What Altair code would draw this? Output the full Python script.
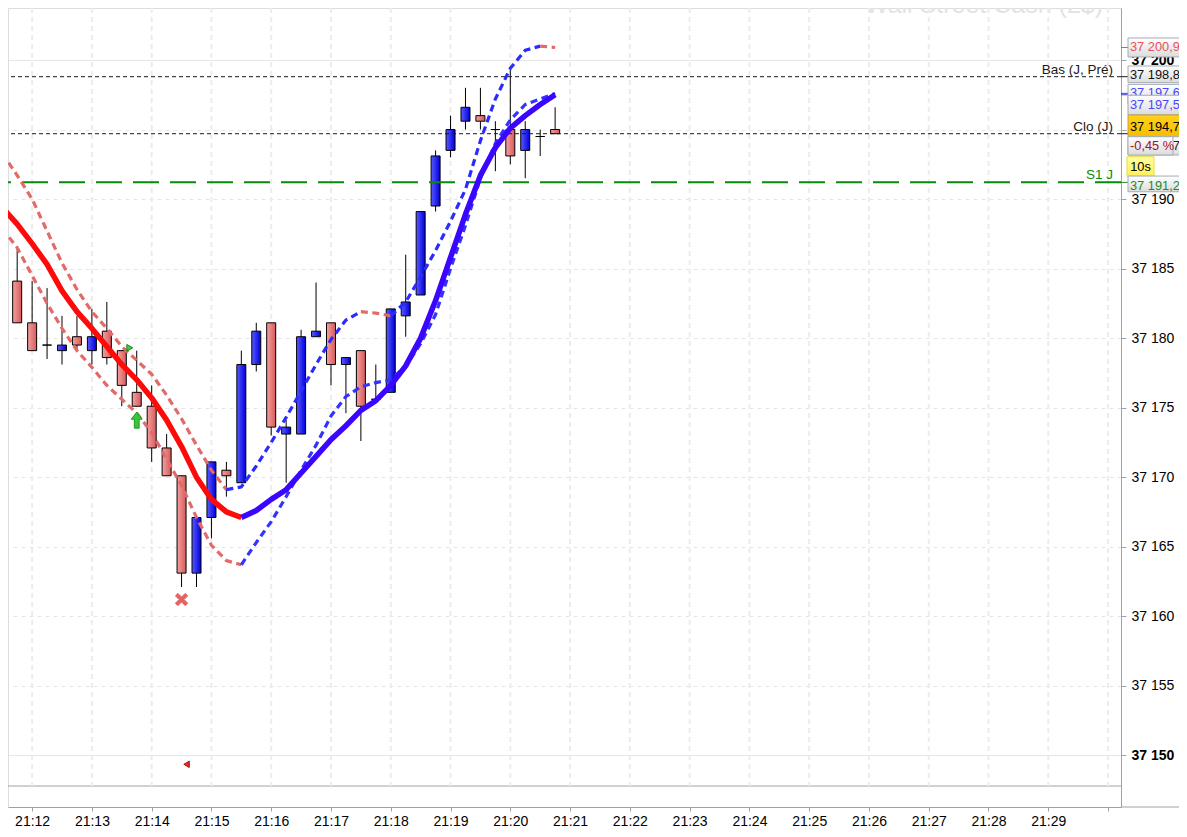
import pandas as pd
import altair as alt

# 15-second candles, time in seconds after 21:12:00
t_sec = list(range(-30, 540, 15))

opens = [37188.7, 37184.1, 37181.1, 37179.5, 37179.1, 37180.1, 37179.1, 37180.5, 37179.1, 37176.1,
         37175.1, 37172.1, 37170.1, 37163.1, 37167.1, 37170.5, 37169.6, 37178.1, 37181.1, 37173.1,
         37173.1, 37180.1, 37181.1, 37178.1, 37179.1, 37175.6, 37176.1, 37181.6, 37183.1, 37189.5,
         37193.5, 37195.6, 37196.0, 37195.0, 37195.0, 37193.5, 37194.5, 37195.0]
highs = [37190.3, 37186.6, 37184.1, 37183.6, 37181.6, 37181.6, 37182.1, 37182.6, 37179.1, 37179.1,
         37176.6, 37173.1, 37170.1, 37167.1, 37171.1, 37171.1, 37179.1, 37181.1, 37181.1, 37174.1,
         37180.6, 37184.0, 37181.1, 37178.6, 37179.1, 37178.1, 37182.1, 37186.0, 37189.1, 37193.5,
         37196.0, 37198.0, 37198.0, 37195.6, 37199.5, 37195.6, 37195.0, 37196.6]
lows = [37184.5, 37181.1, 37179.1, 37178.5, 37178.1, 37179.1, 37178.1, 37178.1, 37175.1, 37175.1,
        37171.1, 37170.1, 37162.1, 37162.1, 37165.6, 37168.6, 37169.6, 37177.6, 37173.0, 37169.6,
        37173.1, 37180.1, 37176.6, 37174.6, 37172.6, 37175.6, 37176.1, 37180.1, 37183.1, 37189.1,
        37193.0, 37195.0, 37195.0, 37192.0, 37192.5, 37191.5, 37193.1, 37194.7]
closes = [37184.5, 37181.1, 37179.1, 37179.5, 37179.5, 37179.5, 37180.1, 37178.6, 37176.6, 37175.1,
          37172.1, 37170.1, 37163.1, 37167.1, 37171.1, 37170.1, 37178.1, 37180.5, 37173.6, 37173.6,
          37180.1, 37180.5, 37178.1, 37178.6, 37175.1, 37175.6, 37182.1, 37182.6, 37189.1, 37193.1,
          37195.0, 37196.6, 37195.6, 37195.0, 37193.1, 37195.0, 37194.5, 37194.7]

# moving average (thick) and the two dashed averages
ma = [37189.4, 37188.2, 37186.8, 37185.3, 37183.4, 37181.9, 37180.7, 37179.4, 37178.1, 37177.0,
      37175.7, 37174.1, 37172.2, 37170.0, 37168.4, 37167.5, 37167.1, 37167.6, 37168.4, 37169.1,
      37170.3, 37171.5, 37172.7, 37173.7, 37174.8, 37175.5, 37176.6, 37178.0, 37180.0, 37182.7,
      37185.8, 37188.9, 37191.7, 37193.7, 37195.1, 37196.0, 37196.8, 37197.5]
upper = [37193.3, 37191.7, 37190.0, 37187.7, 37185.4, 37183.5, 37181.9, 37180.7, 37179.4, 37178.4,
         37177.4, 37175.9, 37174.2, 37172.3, 37170.5, 37169.1, 37169.3, 37170.8, 37172.5, 37174.3,
         37176.2, 37178.1, 37179.9, 37181.3, 37181.9, 37181.8, 37181.6, 37182.6, 37184.4, 37186.3,
         37188.4, 37190.7, 37194.2, 37197.2, 37199.4, 37200.7, 37201.0, 37200.9]
lower = [37187.9, 37186.5, 37184.5, 37182.5, 37180.7, 37179.1, 37177.9, 37176.6, 37175.6, 37174.6,
         37173.2, 37171.3, 37169.4, 37167.1, 37165.1, 37164.0, 37163.7, 37165.3, 37166.8, 37168.6,
         37170.5, 37172.3, 37174.4, 37175.8, 37176.5, 37176.8, 37177.0, 37178.0, 37179.6, 37181.7,
         37185.0, 37188.1, 37191.5, 37194.0, 37195.7, 37196.8, 37197.2, 37197.6]

minute_ticks = list(range(0, 1081, 60))
price_ticks = list(range(37150, 37201, 5))

level_names = ["Bas (J, Pré)", "Clo (J)", "S1 J"]
level_values = [37198.8, 37194.7, 37191.2]
level_colors = ["#1a1a1a", "#1a1a1a", "#0a8a0a"]

pct_change = -0.45
countdown = "10s"

# signals: time (s), price
sig_tri_up = (98, 37179.3)
sig_arrow = (105, 37174.1)
sig_cross = (150, 37161.2)
sig_tri_dn = (155, 37149.35)

# ---- layout ----
W, H = 1113, 799
SEP = 778
XS = alt.Scale(domain=[-19.2, 1088.0], nice=False, zero=False)
YS = alt.Scale(domain=[37146.28, 37203.74], nice=False, zero=False)
AX = "#9aa3ab"

X_AXIS = alt.Axis(values=minute_ticks, grid=False, title=None,
                  labelExpr="datum.value >= 1080 ? '' : '21:' + (12 + datum.value / 60)",
                  domainColor=AX, tickColor=AX, tickSize=4, labelFontSize=14,
                  labelColor="#000", labelPadding=3, labelFlush=False, labelOverlap=False)
Y_AXIS = alt.Axis(orient="right", values=price_ticks, title=None,
                  labelExpr="replace(format(datum.value, ','), ',', ' ')",
                  labelFontWeight={"condition": {"test": "datum.value % 50 === 0", "value": "bold"},
                                   "value": "normal"},
                  gridDash={"condition": {"test": "datum.value % 50 === 0", "value": []},
                            "value": [4, 4]},
                  grid=True, gridColor="#e6e6e6", gridWidth=1.2,
                  domainColor=AX, tickColor=AX, tickSize=5, labelFontSize=14,
                  labelColor="#000", labelPadding=5, labelFlush=False, labelOverlap=False)


def X(f):
    return alt.X(f, scale=XS, axis=X_AXIS, title=None)


def Y(f):
    return alt.Y(f, scale=YS, axis=Y_AXIS, title=None)


def hgrad(a, b):
    return {"gradient": "linear", "x1": 0, "x2": 1, "y1": 0, "y2": 0,
            "stops": [{"offset": 0, "color": a}, {"offset": 1, "color": b}]}


def vgrad(a, b):
    return {"gradient": "linear", "x1": 0, "x2": 0, "y1": 0, "y2": 1,
            "stops": [{"offset": 0, "color": a}, {"offset": 1, "color": b}]}


candles = pd.DataFrame({"t": t_sec, "o": opens, "h": highs, "l": lows, "c": closes})
up = candles[candles.c >= candles.o]
down = candles[candles.c < candles.o]


def runs(values, up_col, down_col):
    rows = []
    run = 0
    prev = None
    for i in range(len(values) - 1):
        d = values[i + 1] > values[i]
        col = up_col if d else down_col
        if d != prev:
            run += 1
            rows.append({"t": t_sec[i], "v": values[i], "run": run, "col": col})
            prev = d
        rows.append({"t": t_sec[i + 1], "v": values[i + 1], "run": run, "col": col})
    return pd.DataFrame(rows)


one = pd.DataFrame({"a": [0]})
layers = []

# pane separator and the time-axis line running under the price scale
layers.append(alt.Chart(one).mark_rule(color=AX).encode(
    x=alt.value(0), x2=alt.value(W), y=alt.value(SEP)))
layers.append(alt.Chart(one).mark_rule(color=AX).encode(
    x=alt.value(W), x2=alt.value(1200), y=alt.value(H)))

# watermark (cut by the top edge, as on screen)
layers.append(alt.Chart(one).mark_text(text="Wall Street Cash (2$)", fontSize=25, color="#e3e3e3",
                                       align="center", baseline="alphabetic").encode(
    x=alt.value(976), y=alt.value(5)))

# minute grid
layers.append(alt.Chart(pd.DataFrame({"m": minute_ticks})).mark_rule(
    color="#ececec", strokeWidth=2, strokeDash=[5, 4]).encode(
    x=X("m:Q"), y=alt.value(0), y2=alt.value(SEP)))

# candles
layers.append(alt.Chart(candles).mark_rule(color="#000", strokeWidth=1, clip=True).encode(
    x=X("t:Q"), y=Y("l:Q"), y2="h:Q"))
layers.append(alt.Chart(down).mark_bar(size=9, stroke="#000", strokeWidth=1, clip=True,
                                       fill=hgrad("#f4a0a0", "#d85a5a")).encode(
    x=X("t:Q"), y=Y("o:Q"), y2="c:Q"))
layers.append(alt.Chart(up).mark_bar(size=9, stroke="#000", strokeWidth=1, clip=True,
                                     fill=hgrad("#5a5aff", "#0000dc")).encode(
    x=X("t:Q"), y=Y("o:Q"), y2="c:Q"))

# level lines
levels = pd.DataFrame({"name": level_names, "v": level_values, "col": level_colors})
layers.append(alt.Chart(levels.iloc[:2]).mark_rule(color="#1a1a1a", strokeWidth=1,
                                                    strokeDash=[4, 3]).encode(y=Y("v:Q")))
layers.append(alt.Chart(levels.iloc[2:]).mark_rule(color="#0a8a0a", strokeWidth=2,
                                                    strokeDash=[26, 11]).encode(y=Y("v:Q")))
layers.append(alt.Chart(levels).mark_text(align="right", baseline="alphabetic", dy=-3,
                                          fontSize=13.5).encode(
    x=alt.value(W - 8), y=Y("v:Q"), text="name:N", color=alt.Color("col:N", scale=None)))

# averages
for vals, width, dash, upc, dnc in [(upper, 3.2, [7, 4.5], "#2b2bff", "#e26a6a"),
                                    (lower, 3.2, [7, 4.5], "#3333ff", "#e26a6a"),
                                    (ma, 5.5, None, "#3a06ff", "#ff0a0a")]:
    kw = {"strokeWidth": width, "clip": True, "strokeJoin": "round"}
    if dash:
        kw["strokeDash"] = dash
    layers.append(alt.Chart(runs(vals, upc, dnc)).mark_line(**kw).encode(
        x=X("t:Q"), y=Y("v:Q"), detail="run:N", order="t:Q",
        color=alt.Color("col:N", scale=None)))

# signals
ARROW = "M0,-1L0.68,-0.12L0.3,-0.12L0.3,1L-0.3,1L-0.3,-0.12L-0.68,-0.12Z"
XMARK = "M-1,-0.6L-0.6,-1L0,-0.4L0.6,-1L1,-0.6L0.4,0L1,0.6L0.6,1L0,0.4L-0.6,1L-1,0.6L-0.4,0Z"
for (st, sp), shape, size, fill, stroke in [
        (sig_tri_up, "triangle-right", 45, "#44cc44", "#118811"),
        (sig_arrow, ARROW, 256, "#3cc43c", "#1e9a1e"),
        (sig_cross, XMARK, 150, "#e06464", "#e06464"),
        (sig_tri_dn, "triangle-left", 40, "#e03030", "#a81010")]:
    layers.append(alt.Chart(pd.DataFrame({"t": [st], "v": [sp]})).mark_point(
        shape=shape, size=size, filled=True, fill=fill, stroke=stroke, strokeWidth=1,
        opacity=1).encode(x=X("t:Q"), y=Y("v:Q")))

# value ticks on the price axis
tick_vals = [upper[-1], level_values[0], lower[-1], ma[-1], closes[-1], level_values[2]]
tick_cols = ["#e8505a", "#1a1a1a", "#3a3aff", "#3a3aff", "#1a1a1a", "#1f8a1f"]
layers.append(alt.Chart(pd.DataFrame({"v": tick_vals, "col": tick_cols})).mark_rule(
    strokeWidth=1).encode(x=alt.value(W), x2=alt.value(W + 7), y=Y("v:Q"),
                          color=alt.Color("col:N", scale=None)))


def fmt(v):
    return f"{v:,.1f}".replace(",", " ").replace(".", ",")


GRAY = vgrad("#ffffff", "#dcdcdc")
last = closes[-1]
# value, text, text colour, fill, border, box top/bottom and text shift (px), x0, x1
tags = [
    (lower[-1], fmt(lower[-1]), "#4646ff", GRAY, "#a4acb4", -9, 11, 0, W + 7, 1200),
    (ma[-1], fmt(ma[-1]), "#4646ff", GRAY, "#a4acb4", 0.5, 20, 10, W + 7, 1200),
    (level_values[0], fmt(level_values[0]), "#111", GRAY, "#a4acb4", -10.7, 6, -1.7, W + 7, 1200),
    (last, fmt(last), "#000", vgrad("#ffd21a", "#f8bc00"), "#c8a040", -18.7, 3, -6.4, W + 7, 1200),
    (last, fmt(last - 1.0), "#222", GRAY, "#a4acb4", 3, 21.3, 12.3, W + 7, 1200),
    (last, f"{pct_change:.2f} %".replace(".", ","), "#a0102a", GRAY, "#a4acb4", 3, 21.3, 12.3,
     W + 7, W + 52),
    (last, countdown, "#000", vgrad("#ffffa0", "#fff05a"), "#e8dc40", 23, 42.3, 33.6,
     W + 6, W + 33),
    (level_values[2], fmt(level_values[2]), "#1f8a1f", GRAY, "#a4acb4", -6.3, 9.4, 3.4,
     W + 7, 1200),
    (upper[-1], fmt(upper[-1]), "#e8505a", GRAY, "#a4acb4", -9.5, 9.5, 0, W + 7, 1200),
]
for v, txt, tcol, fill, stroke, top, bot, shift, x0, x1 in tags:
    d = pd.DataFrame({"v": [v], "txt": [txt]})
    layers.append(alt.Chart(d).mark_rect(fill=fill, stroke=stroke, strokeWidth=1,
                                         yOffset=top, y2Offset=bot).encode(
        x=alt.value(x0), x2=alt.value(x1), y=Y("v:Q"), y2="v:Q"))
    short = x1 - x0 < 40
    layers.append(alt.Chart(d).mark_text(align="center" if short else "left", baseline="middle",
                                         dy=shift, fontSize=12.8, color=tcol).encode(
        x=alt.value((x0 + x1) / 2 if short else x0 + 2), y=Y("v:Q"), text="txt:N"))

# the page keeps an 8 px margin on every side: 8 + 1171 + 8 = 1187, 8 + 821 + 8 = 837
chart = alt.layer(*layers).properties(
    width=W, height=H,
    autosize=alt.AutoSizeParams(type="none"),
    padding={"left": 0, "top": 0, "right": 58, "bottom": 22},
    background="white",
).configure_view(strokeWidth=0).configure(font="Liberation Sans")

chart.save("out.html", embed_options={"renderer": "svg", "actions": False})
